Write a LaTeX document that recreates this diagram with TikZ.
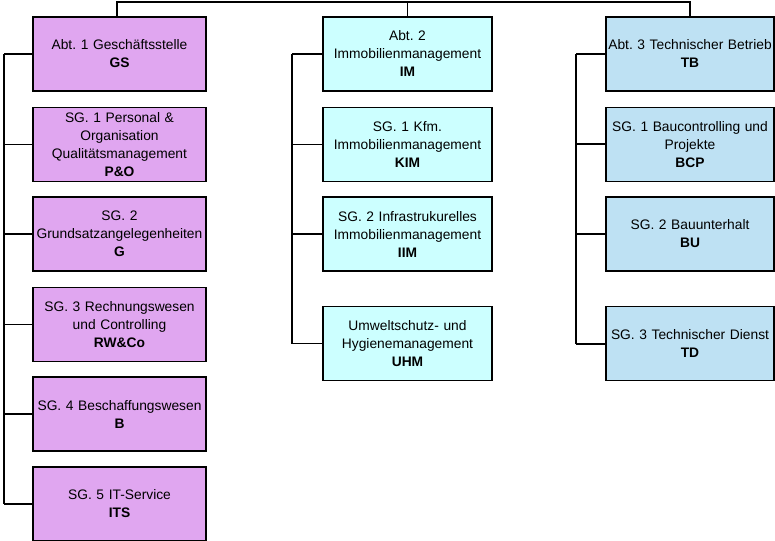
\documentclass[tikz,border=0pt]{standalone}
\usepackage{fontspec}
\setmainfont{Liberation Sans}
\definecolor{pinkbox}{RGB}{224,166,240}
\definecolor{cyanbox}{RGB}{204,255,255}
\definecolor{bluebox}{RGB}{190,225,243}
\tikzset{
  orgbox/.style={draw=black, line width=1.2pt, rectangle, align=center, inner sep=1pt,
    font=\fontsize{13.8}{18}\selectfont\frenchspacing},
  lbox/.style={orgbox, fill=pinkbox, minimum width=173pt, text width=171pt, minimum height=74pt},
  mbox/.style={orgbox, fill=cyanbox, minimum width=169pt, text width=167pt, minimum height=74pt},
  rbox/.style={orgbox, fill=bluebox, minimum width=168pt, text width=166pt, minimum height=74pt},
  conn/.style={draw=black, line width=1.2pt},
  thickconn/.style={draw=black, line width=2pt}
}
\begin{document}
\begin{tikzpicture}[x=1pt, y=-1pt]
\useasboundingbox (0,0) rectangle (775,540);
% left column
\node[lbox] (gs)  at (119.5,54)  {Abt. 1 Geschäftsstelle\\\textbf{GS}};
\node[lbox] (po)  at (119.5,144.5) {SG. 1 Personal \&\\Organisation\\Qualitätsmanagement\\\textbf{P\&O}};
\node[lbox] (g)   at (119.5,234) {SG. 2\\Grundsatzangelegenheiten\\\textbf{G}};
\node[lbox] (rw)  at (119.5,324.5) {SG. 3 Rechnungswesen\\und Controlling\\\textbf{RW\&Co}};
\node[lbox] (b)   at (119.5,414) {SG. 4 Beschaffungswesen\\\textbf{B}};
\node[lbox] (its) at (119.5,504) {SG. 5 IT-Service\\\textbf{ITS}};
% middle column
\node[mbox] (im)  at (407.5,54)  {Abt. 2\\Immobilienmanagement\\\textbf{IM}};
\node[mbox] (kim) at (407.5,144.5) {SG. 1 Kfm.\\Immobilienmanagement\\\textbf{KIM}};
\node[mbox] (iim) at (407.5,234) {SG. 2 Infrastrukurelles\\Immobilienmanagement\\\textbf{IIM}};
\node[mbox] (uhm) at (407.5,343.5) {Umweltschutz- und\\Hygienemanagement\\\textbf{UHM}};
% right column
\node[rbox] (tb)  at (690,54)  {Abt. 3 Technischer Betrieb\\\textbf{TB}};
\node[rbox] (bcp) at (690,144.5) {SG. 1 Baucontrolling und\\Projekte\\\textbf{BCP}};
\node[rbox] (bu)  at (690,234) {SG. 2 Bauunterhalt\\\textbf{BU}};
\node[rbox] (td)  at (690,343.5) {SG. 3 Technischer Dienst\\\textbf{TD}};
% top bar
\coordinate (topl) at (117,2);
\coordinate (topm) at (407.5,2);
\coordinate (topr) at (690,2);
\draw[conn] (gs.north -| topl) -- (topl) -- (topr) -- (tb.north);
\draw[conn] (topm) -- (im.north);
% left trunk
\coordinate (lt) at (4,54);
\coordinate (lb) at (4,504);
\draw[conn] (lt) -- (lb);
\foreach \n in {gs,po,g,rw,b,its} { \draw[conn] (\n.west) -- (\n.west -| lt); }
% middle trunk
\coordinate (mt) at (292,54);
\coordinate (mb) at (292,343.5);
\draw[conn] (mt) -- (mb);
\foreach \n in {im,kim,iim,uhm} { \draw[conn] (\n.west) -- (\n.west -| mt); }
% right trunk
\coordinate (rt) at (576,54);
\coordinate (rb) at (576,343.5);
\draw[conn] (rt) -- (rb);
\foreach \n in {tb,bcp,bu,td} { \draw[thickconn] (\n.west) -- (\n.west -| rt); }
\end{tikzpicture}
\end{document}
